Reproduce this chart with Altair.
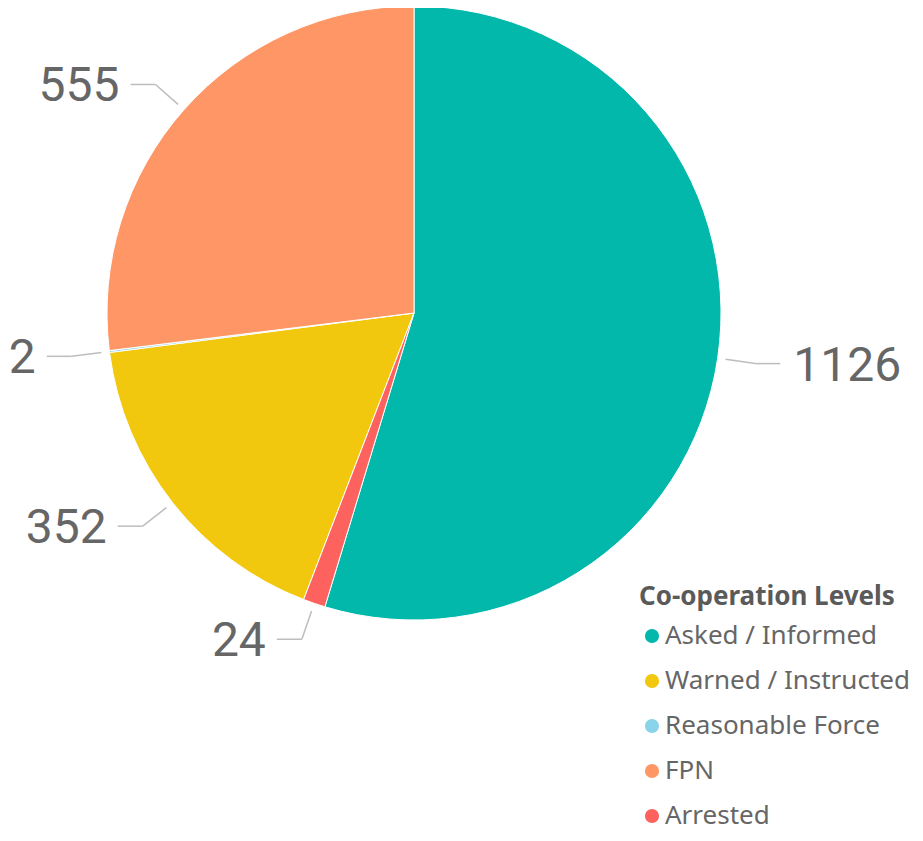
import altair as alt
import pandas as pd

categories = ["Asked / Informed", "Warned / Instructed", "Reasonable Force", "FPN", "Arrested"]
values = [1126, 352, 2, 555, 24]
pie_order = [0, 2, 3, 4, 1]  # clockwise from 12 o'clock
colors = ["#01B8AA", "#F2C80F", "#8AD4EB", "#FE9666", "#FD625E"]

df = pd.DataFrame({"category": categories, "value": values, "ord": pie_order})

CX, CY, R = 406, 305, 307

base = alt.Chart(df)

color = alt.Color(
    "category:N",
    scale=alt.Scale(domain=categories, range=colors),
    legend=alt.Legend(
        title="Co-operation Levels",
        orient="none",
        legendX=631,
        legendY=576,
        titleFont="Noto Sans",
        titleFontSize=26,
        titleFontWeight="bold",
        titleColor="#5a5a5a",
        titlePadding=13,
        titleLimit=400,
        labelFont="Noto Sans",
        labelFontSize=26,
        labelColor="#666666",
        labelLimit=400,
        symbolType="circle",
        symbolSize=200,
        symbolStrokeWidth=0,
        rowPadding=19,
        labelOffset=0,
    ),
)

pie = base.mark_arc(radius=R, stroke="white", strokeWidth=1).encode(
    theta=alt.Theta("value:Q", stack=True),
    order=alt.Order("ord:Q"),
    color=color,
    x=alt.value(CX),
    y=alt.value(CY),
)

geo = base.transform_joinaggregate(total="sum(value)").transform_window(
    cum="sum(value)", sort=[alt.SortField("ord")], frame=[None, 0]
).transform_calculate(
    a="(datum.cum - datum.value/2) / datum.total * 2 * PI",
).transform_calculate(
    s="sin(datum.a)", c="cos(datum.a)",
).transform_calculate(
    x1=f"{CX} + {R+8}*datum.s", y1=f"{CY} - {R+8}*datum.c",
    xe=f"{CX} + {R+38}*datum.s", ye=f"{CY} - {R+38}*datum.c",
).transform_calculate(
    x3="datum.xe + (datum.s > 0 ? 25 : -25)",
    tx="datum.xe + (datum.s > 0 ? 38 : -36)",
)

noax = dict(scale=None, axis=None)

seg1 = geo.mark_rule(color="#bdbdbd", strokeWidth=1.5).encode(
    x=alt.X("x1:Q", **noax), x2="xe:Q",
    y=alt.Y("y1:Q", **noax), y2="ye:Q",
)
seg2 = geo.mark_rule(color="#bdbdbd", strokeWidth=1.5).encode(
    x=alt.X("xe:Q", **noax), x2="x3:Q",
    y=alt.Y("ye:Q", **noax), y2="ye:Q",
)

txt_kw = dict(font="Roboto", fontSize=48, color="#666666", baseline="middle", dy=3)
right_txt = geo.transform_filter("datum.s > 0").mark_text(align="left", **txt_kw).encode(
    x=alt.X("tx:Q", **noax), y=alt.Y("ye:Q", **noax), text="value:Q"
)
left_txt = geo.transform_filter("datum.s <= 0").mark_text(align="right", **txt_kw).encode(
    x=alt.X("tx:Q", **noax), y=alt.Y("ye:Q", **noax), text="value:Q"
)

chart = alt.layer(pie, seg1, seg2, right_txt, left_txt).properties(
    width=907, height=825, padding=0, autosize=alt.AutoSizeParams(type="none")
).configure_view(stroke=None)

chart.save("out.html", embed_options={"renderer": "svg", "actions": False})
